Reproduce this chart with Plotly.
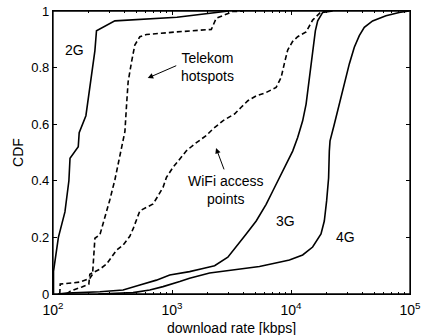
import math
import plotly.graph_objects as go

# Download rate [kbps] and cumulative fraction for each access technology
rate_2g = [101, 101, 111, 126, 136, 139, 163, 166, 189, 198, 207, 218, 225, 232, 331, 1100, 2000, 3000]
cdf_2g = [0.0, 0.08, 0.2, 0.29, 0.40, 0.48, 0.52, 0.57, 0.63, 0.69, 0.76, 0.815, 0.86, 0.93, 0.965, 0.978, 0.99, 1.0]

rate_hotspot = [114, 115, 168, 204, 215, 225, 248, 273, 300, 331, 353, 376, 402, 415, 428, 457, 487, 537,
                610, 1090, 2140, 2350, 3240, 4000]
cdf_hotspot = [0.0, 0.035, 0.042, 0.055, 0.07, 0.197, 0.21, 0.268, 0.332, 0.403, 0.462, 0.509, 0.574, 0.668,
               0.75, 0.82, 0.88, 0.909, 0.917, 0.926, 0.935, 0.974, 0.998, 1.0]

rate_wifi = [130, 140, 175, 200, 204, 248, 282, 342, 388, 442, 471, 503, 537, 610, 693, 764, 841, 898, 1018,
             1321, 1549, 1940, 2207, 2675, 3350, 3816, 4340, 5100, 6180, 7500, 8260, 8810, 9380, 10300,
             11380, 13390, 15200, 17870, 20000]
cdf_wifi = [0.0, 0.01, 0.025, 0.035, 0.07, 0.088, 0.106, 0.155, 0.173, 0.204, 0.23, 0.259, 0.294, 0.306, 0.318,
            0.347, 0.377, 0.412, 0.447, 0.506, 0.53, 0.56, 0.583, 0.612, 0.636, 0.66, 0.683, 0.7, 0.712, 0.73,
            0.765, 0.816, 0.862, 0.892, 0.909, 0.926, 0.968, 0.997, 1.0]

rate_3g = [110, 130, 248, 388, 537, 740, 957, 1406, 1820, 2280, 2946, 3466, 4204, 5100, 6180, 7030, 8000, 9100,
           10330, 11380, 12530, 13390, 14270, 15200, 16020, 16760, 18460, 22380]
cdf_3g = [0.0, 0.003, 0.008, 0.014, 0.032, 0.049, 0.067, 0.079, 0.09, 0.1, 0.13, 0.166, 0.212, 0.258, 0.317,
          0.364, 0.41, 0.457, 0.505, 0.553, 0.612, 0.671, 0.765, 0.848, 0.93, 0.965, 0.995, 1.0]

rate_4g = [240, 471, 650, 841, 1162, 1406, 2070, 3466, 5430, 8510, 9700, 12530, 15200, 17870, 19050, 19920,
           20700, 20990, 21280, 23120, 25470, 28050, 30900, 34040, 37500, 41300, 48500, 62800, 81100, 98000]
cdf_4g = [0.0, 0.005, 0.014, 0.026, 0.044, 0.056, 0.074, 0.085, 0.097, 0.115, 0.12, 0.138, 0.166, 0.212, 0.258,
          0.329, 0.41, 0.505, 0.541, 0.6, 0.671, 0.742, 0.813, 0.872, 0.913, 0.942, 0.965, 0.983, 0.995, 1.0]

x_tick_vals = [1e2, 1e3, 1e4, 1e5]
x_tick_text = ["10<sup>2</sup>", "10<sup>3</sup>", "10<sup>4</sup>", "10<sup>5</sup>"]
y_tick_vals = [0, 0.2, 0.4, 0.6, 0.8, 1]
y_tick_text = ["0", "0.2", "0.4", "0.6", "0.8", "1"]

FONT = "Liberation Sans, Arial, sans-serif"

fig = go.Figure()
series = [
    (rate_2g, cdf_2g, "solid"),
    (rate_hotspot, cdf_hotspot, "dash"),
    (rate_wifi, cdf_wifi, "dash"),
    (rate_3g, cdf_3g, "solid"),
    (rate_4g, cdf_4g, "solid"),
]
for xs, ys, dash in series:
    fig.add_trace(go.Scatter(
        x=xs, y=ys, mode="lines",
        line=dict(color="black", width=1.6, dash="5px,3px" if dash == "dash" else "solid"),
        showlegend=False, hoverinfo="skip",
    ))

lg = math.log10
labels = [
    ("2G", 152, 0.862),
    ("Telekom<br>hotspots", 1970, 0.802),
    ("WiFi access<br>points", 2820, 0.367),
    ("3G", 8970, 0.258),
    ("4G", 28600, 0.202),
]
for text, xv, yv in labels:
    fig.add_annotation(x=lg(xv), y=yv, xref="x", yref="y", text=text, showarrow=False,
                       font=dict(family=FONT, size=14, color="black"), align="center")

# Arrows pointing from the labels to the dashed curves
arrows = [
    ((625, 0.763), (1117, 0.809)),
    ((2344, 0.516), (2767, 0.435)),
]
for (tx, ty), (sx, sy) in arrows:
    fig.add_annotation(x=lg(tx), y=ty, ax=lg(sx), ay=sy, xref="x", yref="y", axref="x", ayref="y",
                       text="", showarrow=True, arrowhead=2, arrowsize=1.1, arrowwidth=1,
                       arrowcolor="black", standoff=0, startstandoff=0)

# x-axis title placed below the tick labels
fig.add_annotation(x=0.5, y=-0.12, xref="paper", yref="paper", yanchor="middle",
                   text="download rate [kbps]", showarrow=False,
                   font=dict(family=FONT, size=14, color="black"))

# Box frame around the plotting area
fig.add_shape(type="rect", xref="paper", yref="paper", x0=0, y0=0, x1=1, y1=1,
              line=dict(color="black", width=1.3), layer="above")

axis_common = dict(
    showline=True, linecolor="black", linewidth=1.2, mirror="allticks",
    ticks="inside", ticklen=4, tickwidth=1, tickcolor="black",
    showgrid=False, zeroline=False, automargin=False,
)

fig.update_xaxes(
    type="log", range=[2, 5], tickvals=x_tick_vals, ticktext=x_tick_text,
    tickfont=dict(family=FONT, size=14, color="black"), ticklabelstandoff=3,
    ticklabeloverflow="allow",
    minor=dict(ticks="inside", ticklen=2, tickcolor="black", tickwidth=1,
               tickvals=[m * 10 ** e for e in range(2, 5) for m in range(2, 10)]),
    **axis_common,
)
fig.update_yaxes(
    range=[0, 1], tickvals=y_tick_vals, ticktext=y_tick_text,
    tickfont=dict(family=FONT, size=13, color="black"),
    title=dict(text="CDF", font=dict(family=FONT, size=14, color="black"), standoff=4),
    **axis_common,
)

fig.update_layout(
    width=422, height=335,
    margin=dict(l=53, r=12, t=11, b=41),
    paper_bgcolor="white", plot_bgcolor="white",
)

fig.write_html("out.html")
